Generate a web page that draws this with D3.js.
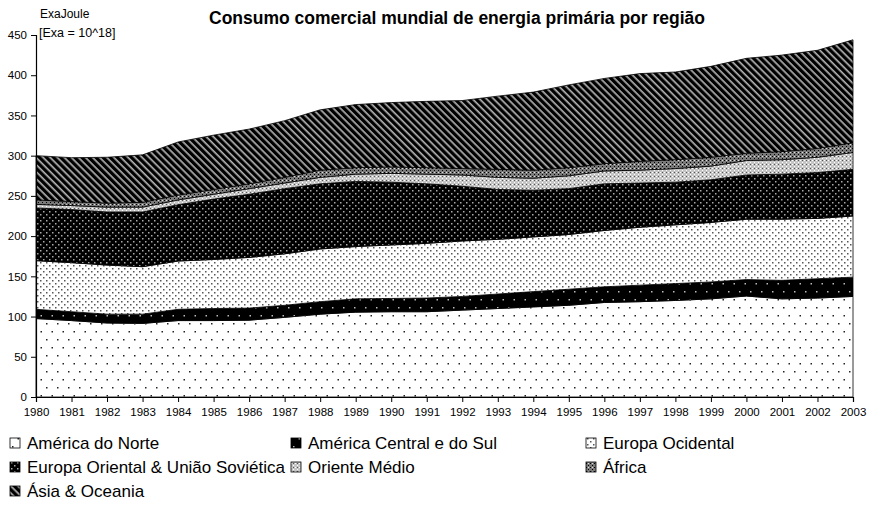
<!DOCTYPE html>
<html>
<head>
<meta charset="utf-8">
<script src="https://cdn.jsdelivr.net/npm/d3@7/dist/d3.min.js"></script>
<style>
  body { margin: 0; background: #fff; }
  text { font-family: "Liberation Sans", Arial, sans-serif; fill: #000; }
</style>
</head>
<body>
<svg id="chart" width="872" height="508"></svg>
<script>
// valores (ExaJoule)
const years = [1980, 1981, 1982, 1983, 1984, 1985, 1986, 1987, 1988, 1989, 1990, 1991,
               1992, 1993, 1994, 1995, 1996, 1997, 1998, 1999, 2000, 2001, 2002, 2003];
const americaNorte   = [97.5, 95, 92, 91.5, 95, 95, 95.5, 99, 103, 105.5, 106, 106, 108, 110, 112, 114, 117.5, 118.5, 120, 122, 125.5, 122, 123, 125];
const americaCentral = [11.5, 11, 11, 11.5, 14, 15, 15, 15, 15.5, 16.5, 16.5, 17, 17, 18, 19, 20, 19.5, 20.5, 21, 21, 20.5, 23, 24, 24];
const europaOcid     = [60.5, 61, 61, 59, 60, 61, 63, 64, 65.5, 65, 66.5, 68, 69, 68, 68, 68, 70, 72, 73, 74, 75, 76, 75, 76];
const europaOriental = [65.5, 66, 66, 68, 70, 75, 78.5, 81, 81, 81, 78, 74, 68, 62, 58, 57, 58, 55, 53, 53, 55, 56, 57, 58];
const orienteMedio   = [4.5, 5, 6, 6, 6, 6, 7, 7, 8, 9, 11, 12, 14, 15, 15, 16, 16, 16, 17, 17, 18, 18, 19, 21];
const africa         = [5.5, 5, 5, 6, 6, 6, 6, 7, 9, 8, 8, 8, 8, 10, 10, 10, 9, 11, 11, 11, 9, 10, 11, 12];
const asiaOceania    = [55, 54.5, 57, 59, 66, 67.5, 68, 70.5, 75, 78.5, 80, 82.5, 84.5, 91, 97, 103, 106, 109, 109, 113, 118, 120, 122, 128];

const regions = ['América do Norte', 'América Central e do Sul', 'Europa Ocidental',
                 'Europa Oriental & União Soviética', 'Oriente Médio', 'África', 'Ásia & Oceania'];
const seriesValues = [americaNorte, americaCentral, europaOcid, europaOriental, orienteMedio, africa, asiaOceania];
const yTicks = [0, 50, 100, 150, 200, 250, 300, 350, 400, 450];

const svg = d3.select('#chart');
const defs = svg.append('defs');

// padrões de preenchimento (estilo Excel preto e branco)
function dotPattern(id, w, h, bg, dot, pts, size) {
  const p = defs.append('pattern').attr('id', id)
    .attr('patternUnits', 'userSpaceOnUse').attr('width', w).attr('height', h);
  p.append('rect').attr('width', w).attr('height', h).attr('fill', bg);
  pts.forEach(d => {
    p.append('rect').attr('x', d[0]).attr('y', d[1])
      .attr('width', size).attr('height', size).attr('fill', dot);
  });
  return p;
}
dotPattern('p0', 11, 16, '#fff', '#222', [[2, 3], [7.5, 11]], 1.5);
dotPattern('p1', 11, 16, '#000', '#bbb', [[2, 3], [7.5, 11]], 1.5);
dotPattern('p2', 6, 6, '#fff', '#555', [[1, 1], [4, 4]], 1.5);
dotPattern('p3', 6, 6, '#000', '#aaa', [[1, 1], [4, 4]], 1.5);
dotPattern('p4', 4, 4, '#c4c4c4', '#fff', [[0, 0], [2, 2]], 1)
  .append('rect').attr('x', 2).attr('y', 0).attr('width', 1).attr('height', 1).attr('fill', '#555');
dotPattern('p5', 4, 4, '#7a7a7a', '#000', [[0, 0], [2, 2]], 1)
  .append('rect').attr('x', 2).attr('y', 0).attr('width', 1).attr('height', 1).attr('fill', '#ddd');

const asia = defs.append('pattern').attr('id', 'p6')
  .attr('patternUnits', 'userSpaceOnUse').attr('width', 5).attr('height', 5)
  .attr('patternTransform', 'rotate(-45)');
asia.append('rect').attr('width', 5).attr('height', 5).attr('fill', '#000');
asia.append('rect').attr('x', 3).attr('width', 1.1).attr('height', 5).attr('fill', '#777');
asia.append('rect').attr('x', 4.1).attr('width', 0.8).attr('height', 5).attr('fill', '#ddd');

const fills = ['url(#p0)', 'url(#p1)', 'url(#p2)', 'url(#p3)', 'url(#p4)', 'url(#p5)', 'url(#p6)'];

const x = d3.scaleLinear().domain([1980, 2003]).range([36, 853]);
const y = d3.scaleLinear().domain([0, 450]).range([397, 35]);

const table = years.map((yr, i) => {
  const row = { year: yr };
  regions.forEach((r, k) => { row[r] = seriesValues[k][i]; });
  return row;
});
const stacked = d3.stack().keys(regions)(table);

const area = d3.area()
  .x(d => x(d.data.year))
  .y0(d => y(d[0]))
  .y1(d => y(d[1]));

svg.append('g').selectAll('path').data(stacked).join('path')
  .attr('d', area)
  .attr('fill', (d, i) => fills[i])
  .attr('stroke', '#000')
  .attr('stroke-width', 0.8);

// eixos
const yAxis = svg.append('g').attr('transform', 'translate(36,0)')
  .call(d3.axisLeft(y).tickValues(yTicks).tickSize(5).tickPadding(4));
const xAxis = svg.append('g').attr('transform', 'translate(0,397)')
  .call(d3.axisBottom(x).tickValues(years).tickFormat(d3.format('d')).tickSize(5).tickPadding(6));
[yAxis, xAxis].forEach(a => {
  a.select('.domain').attr('stroke', '#000').attr('stroke-width', 1.2);
  a.selectAll('line').attr('stroke', '#000');
  a.selectAll('text').attr('font-size', 11.5).attr('fill', '#000')
    .style('font-family', '"Liberation Sans", Arial, sans-serif');
});

// títulos
svg.append('text').attr('x', 457).attr('y', 24).attr('text-anchor', 'middle')
  .attr('font-size', 17.5).attr('font-weight', 'bold')
  .text('Consumo comercial mundial de energia primária por região');
svg.append('text').attr('x', 40).attr('y', 18).attr('font-size', 12).text('ExaJoule');
svg.append('text').attr('x', 39).attr('y', 37).attr('font-size', 12.5).text('[Exa = 10^18]');

// legenda
const legCols = [10, 291, 586];
const legend = svg.append('g').selectAll('g').data(regions).join('g')
  .attr('transform', (d, i) => `translate(${legCols[i % 3]},${443 + Math.floor(i / 3) * 24})`);
legend.append('rect').attr('x', 0).attr('y', -5).attr('width', 10).attr('height', 10)
  .attr('fill', (d, i) => fills[i]).attr('stroke', '#000').attr('stroke-width', 0.8);
legend.append('text').attr('x', 17).attr('y', 6).attr('font-size', 17).text(d => d);
</script>
</body>
</html>
